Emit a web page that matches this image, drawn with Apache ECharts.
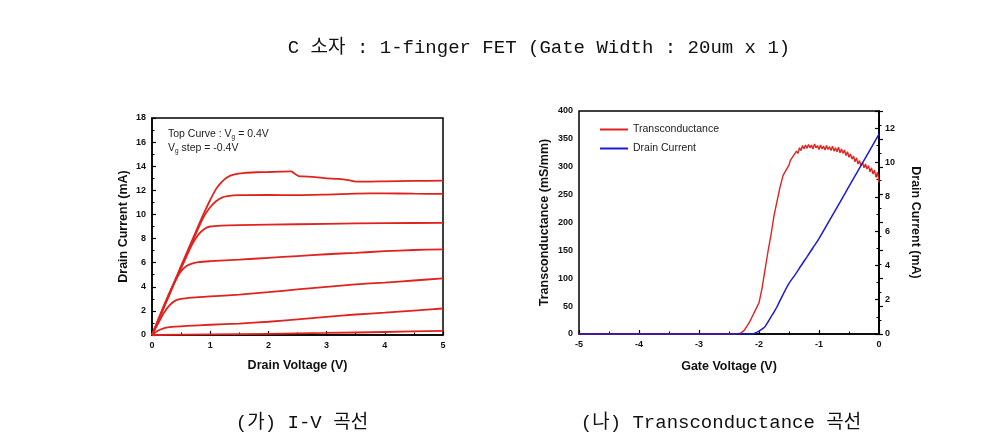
<!DOCTYPE html>
<html><head><meta charset="utf-8">
<script src="https://cdn.jsdelivr.net/npm/echarts@6/dist/echarts.min.js"></script>
<style>html,body{margin:0;padding:0;background:#fff}#c{width:1007px;height:445px}</style>
</head><body><div id="c"></div>
<script>
// ---- I-V curves (Vg = 0.4V, step -0.4V) ----
const vd1 = [0,0.2,0.4,0.6,0.8,0.9,1.0,1.1,1.2,1.3,1.4,1.6,1.8,2.0,2.2,2.4,2.43,2.48,2.52,2.6,2.8,3.0,3.2,3.4,3.5,3.7,4.0,4.5,5.0];
const id1 = [0,2.3,4.6,6.85,9.1,10.2,11.2,12.1,12.7,13.1,13.3,13.45,13.5,13.52,13.55,13.57,13.45,13.3,13.18,13.15,13.1,13.0,12.95,12.82,12.72,12.72,12.75,12.78,12.8];
const vd2 = [0,0.2,0.4,0.6,0.8,0.9,1.0,1.1,1.2,1.3,1.5,2,2.5,3,3.5,4,4.5,5];
const id2 = [0,2.25,4.5,6.7,8.9,9.9,10.6,11.1,11.4,11.52,11.6,11.62,11.6,11.65,11.72,11.75,11.72,11.7];
const vd3 = [0,0.2,0.4,0.5,0.6,0.7,0.8,0.9,1.0,1.2,1.5,2,3,4,5];
const id3 = [0,2.25,4.5,5.55,6.6,7.6,8.35,8.8,9.0,9.08,9.12,9.15,9.22,9.28,9.3];
const vd4 = [0,0.1,0.2,0.3,0.4,0.5,0.6,0.7,0.8,1.0,1.5,2,2.5,3,3.5,4,4.5,5];
const id4 = [0,1.2,2.4,3.5,4.5,5.3,5.75,5.95,6.05,6.12,6.25,6.4,6.55,6.7,6.82,6.95,7.05,7.1];
const vd5 = [0,0.1,0.2,0.3,0.4,0.5,0.7,1.0,1.5,2,2.5,3,3.5,4,4.5,5];
const id5 = [0,0.9,1.8,2.45,2.85,3.0,3.1,3.2,3.35,3.55,3.78,4.0,4.2,4.35,4.52,4.7];
const vd6 = [0,0.1,0.2,0.3,0.4,0.6,1.0,1.5,2,2.5,3,3.5,4,4.5,5];
const id6 = [0,0.35,0.55,0.65,0.7,0.75,0.85,0.95,1.1,1.3,1.5,1.7,1.85,2.02,2.2];
const vd7 = [0,1,2,3,4,5];
const id7 = [0,0.05,0.1,0.17,0.25,0.35];

// ---- Transconductance ----
const vgGm = [-5,-2.4,-2.35,-2.3,-2.25,-2.2,-2.15,-2.1,-2.05,-2.0,-1.95,-1.9,-1.85,-1.8,-1.75,-1.7,-1.65,-1.6,-1.55,
  -1.500,-1.475,-1.450,-1.425,-1.400,-1.375,-1.350,-1.325,-1.300,-1.275,-1.250,-1.225,-1.200,-1.175,-1.150,-1.125,-1.100,-1.075,-1.050,-1.025,
  -1.000,-0.975,-0.950,-0.925,-0.900,-0.875,-0.850,-0.825,-0.800,-0.775,-0.750,-0.725,-0.700,-0.675,-0.650,-0.625,-0.600,-0.575,-0.550,-0.525,
  -0.500,-0.475,-0.450,-0.425,-0.400,-0.375,-0.350,-0.325,-0.300,-0.275,-0.250,-0.225,-0.200,-0.175,-0.150,-0.125,-0.100,-0.075,-0.050,-0.025,0];
const gm = [0,0,0.5,2,6,14,23,34,45,56,82,115,148,178,212,238,263,284,294,
  303,312,309,320,317,328,324,334,329,338,332,339,333,340,334,339,332,341,334,338,
  331,339,332,337,330,338,331,336,329,337,328,334,327,335,325,332,324,330,320,327,
  317,323,314,319,309,316,305,311,302,308,298,305,296,302,291,298,287,294,281,290,272];
const vgId = [-5,-2.2,-2.1,-2.05,-2.0,-1.95,-1.9,-1.85,-1.8,-1.75,-1.7,-1.6,-1.5,-1.4,-1.3,-1.2,-1.1,-1.0,-0.75,-0.5,-0.25,0];
const idT  = [0,0,0.02,0.08,0.17,0.28,0.43,0.7,1.0,1.28,1.59,2.3,2.95,3.45,3.98,4.5,5.03,5.56,7.08,8.6,10.12,11.65];

const ivX = [vd1,vd2,vd3,vd4,vd5,vd6,vd7];
const ivY = [id1,id2,id3,id4,id5,id6,id7];
const pairs = (xs, ys) => xs.map((x, i) => [x, ys[i]]);

const SANS = 'Liberation Sans, Arial, sans-serif';
const SERIF = 'Liberation Mono, Noto Sans CJK KR, monospace';
const RED = '#e0231e', BLUE = '#1b1bd6';

const lblStyle = {fontFamily: SANS, fontWeight: 'bold', fontSize: 9, color: '#111'};
const nameStyle = {fontFamily: SANS, fontWeight: 'bold', fontSize: 12.5, color: '#111'};
const axLine = {show: true, lineStyle: {color: '#000', width: 1.5}};
const tick = {show: true, inside: true, length: 4, lineStyle: {color: '#000', width: 1.2}};
const minor = {show: true, splitNumber: 2, length: 2.5, lineStyle: {color: '#000', width: 1}};

const chart = echarts.init(document.getElementById('c'), null, {renderer: 'canvas'});
const series = [];
ivX.forEach((xs, k) => series.push({
  type: 'line', xAxisIndex: 0, yAxisIndex: 0, data: pairs(xs, ivY[k]),
  showSymbol: false, smooth: 0.25, lineStyle: {color: RED, width: 1.8}, itemStyle: {color: RED}, silent: true
}));
series.push({name: 'Transconductance', type: 'line', xAxisIndex: 1, yAxisIndex: 1, data: pairs(vgGm, gm),
  showSymbol: false, lineStyle: {color: RED, width: 1.4}, itemStyle: {color: RED}});
series.push({name: 'Drain Current', type: 'line', xAxisIndex: 1, yAxisIndex: 2, data: pairs(vgId, idT),
  showSymbol: false, smooth: 0.25, lineStyle: {color: BLUE, width: 1.5}, itemStyle: {color: BLUE}});

chart.setOption({
  animation: false,
  title: [
    {text: 'C 소자 : 1-finger FET (Gate Width : 20um x 1)', left: 534, top: 33, textAlign: 'center',
     textStyle: {fontFamily: SERIF, fontWeight: 'normal', fontSize: 19, color: '#111'}},
    {text: '(가) I-V 곡선', left: 297, top: 408, textAlign: 'center',
     textStyle: {fontFamily: SERIF, fontWeight: 'normal', fontSize: 19, color: '#111'}},
    {text: '(나) Transconductance 곡선', left: 716, top: 408, textAlign: 'center',
     textStyle: {fontFamily: SERIF, fontWeight: 'normal', fontSize: 19, color: '#111'}}
  ],
  legend: {
    left: 595, top: 119, orient: 'vertical', itemGap: 8, itemWidth: 28, itemHeight: 2, icon: 'rect',
    data: ['Transconductance', 'Drain Current'],
    textStyle: {fontFamily: SANS, fontSize: 10.5, color: '#222', padding: [0, 0, 0, 0]}
  },
  grid: [
    {left: 152, top: 118, width: 291, height: 217, show: true, borderColor: '#000', borderWidth: 1.5, backgroundColor: 'transparent'},
    {left: 579, top: 111, width: 300, height: 223, show: true, borderColor: '#000', borderWidth: 1.5, backgroundColor: 'transparent'}
  ],
  xAxis: [
    {type: 'value', gridIndex: 0, min: 0, max: 5, interval: 1, name: 'Drain Voltage (V)', nameLocation: 'middle', nameGap: 24,
     nameTextStyle: nameStyle, axisLine: axLine, axisTick: tick, minorTick: minor, splitLine: {show: false},
     axisLabel: Object.assign({margin: 6}, lblStyle)},
    {type: 'value', gridIndex: 1, min: -5, max: 0, interval: 1, name: 'Gate Voltage (V)', nameLocation: 'middle', nameGap: 26,
     nameTextStyle: nameStyle, axisLine: axLine, axisTick: tick, minorTick: minor, splitLine: {show: false},
     axisLabel: Object.assign({margin: 6}, lblStyle)}
  ],
  yAxis: [
    {type: 'value', gridIndex: 0, min: 0, max: 18, interval: 2, name: 'Drain Current (mA)', nameLocation: 'middle', nameGap: 22,
     nameTextStyle: nameStyle, axisLine: axLine, axisTick: tick, minorTick: minor, splitLine: {show: false},
     axisLabel: Object.assign({margin: 6}, lblStyle)},
    {type: 'value', gridIndex: 1, min: 0, max: 400, interval: 50, name: 'Transconductance (mS/mm)', nameLocation: 'middle', nameGap: 28,
     nameTextStyle: nameStyle, axisLine: axLine, axisTick: tick, minorTick: minor, splitLine: {show: false},
     axisLabel: Object.assign({margin: 6}, lblStyle)},
    {type: 'value', gridIndex: 1, position: 'right', min: 0, max: 13, interval: 2, name: 'Drain Current (mA)', nameLocation: 'middle', nameGap: 30,
     nameRotate: -90,
     nameTextStyle: nameStyle, axisLine: axLine, axisTick: tick, minorTick: minor, splitLine: {show: false},
     axisLabel: Object.assign({margin: 6, showMaxLabel: false}, lblStyle)}
  ],
  graphic: [
    {type: 'text', left: 168, top: 127, style: {
      text: 'Top Curve : V{s|g} = 0.4V\nV{s|g} step = -0.4V', fontFamily: SANS, fontSize: 10.5, fill: '#222', lineHeight: 14,
      rich: {s: {fontSize: 6.5, verticalAlign: 'bottom', padding: [6, 0, 0, 0], fontFamily: SANS, fill: '#222'}}
    }}
  ],
  series: series
});
</script></body></html>
